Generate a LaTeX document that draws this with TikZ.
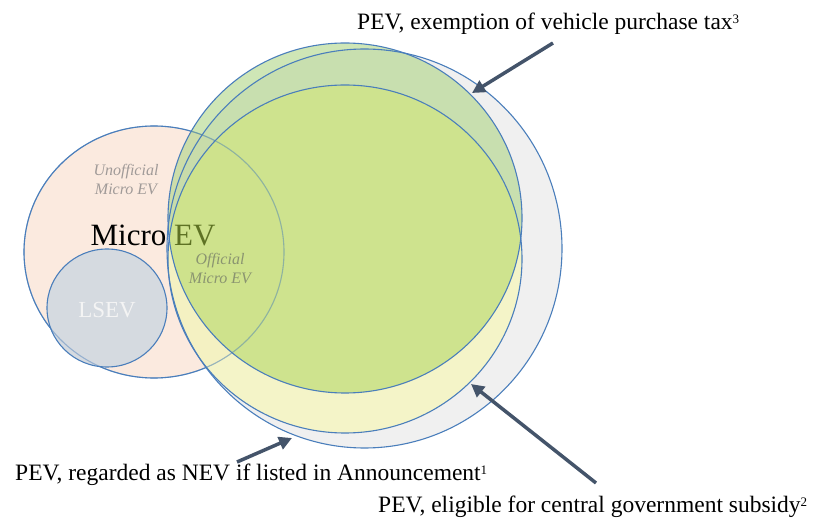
\documentclass[tikz,border=0pt]{standalone}
\usepackage{fontspec}
\setmainfont{Liberation Serif}
\usetikzlibrary{arrows.meta}
\definecolor{peach}{HTML}{FBEADF}
\definecolor{lsevfill}{HTML}{D5DAE0}
\definecolor{edgeblue}{HTML}{4A7EBB}
\definecolor{grayfill}{HTML}{E6E6E6}
\definecolor{yelfill}{HTML}{F8F8AD}
\definecolor{grnfill}{HTML}{AFD585}
\definecolor{innfix}{HTML}{D8E967}
\definecolor{arrowc}{HTML}{44546A}
\definecolor{olivetxt}{HTML}{5E7224}
\definecolor{offtxt}{HTML}{8A9470}
\definecolor{unofftxt}{HTML}{A09A98}
\definecolor{lsevtxt}{HTML}{F4F4F4}
\newcommand{\supnum}[1]{\raisebox{6pt}{\fontsize{13}{13}\selectfont #1}}
\tikzset{
  outline/.style={draw=edgeblue, line width=1.1pt},
  pointer/.style={arrowc, line width=3.5pt, -{Triangle[length=13pt,width=13pt]}},
  label/.style={font=\fontsize{23.5}{28}\selectfont, inner sep=0pt, anchor=base west},
  smallital/.style={font=\itshape\fontsize{16}{19}\selectfont, align=center, inner sep=0pt},
}
\begin{document}
\begin{tikzpicture}[x=1pt,y=-1pt]
\useasboundingbox (0,0) rectangle (831,529);
% Micro EV circle and LSEV circle
\fill[peach] (154,252) ellipse [x radius=130pt, y radius=126pt];
\draw[outline] (154,252) ellipse [x radius=130pt, y radius=126pt];
\filldraw[fill=lsevfill, outline] (107,308) ellipse [x radius=60pt, y radius=59pt];
% big ellipses (fills)
\fill[grayfill, fill opacity=0.6] (364.5,248.5) ellipse [x radius=197.5pt, y radius=199.5pt];
\fill[yelfill, fill opacity=0.6] (345,259) ellipse [x radius=177pt, y radius=174pt];
\fill[grnfill, fill opacity=0.6] (345,218) ellipse [x radius=177pt, y radius=175pt];
\begin{scope}
  \clip (345,259) ellipse [x radius=177pt, y radius=174pt];
  \fill[innfix, fill opacity=0.3] (345,218) ellipse [x radius=177pt, y radius=175pt];
\end{scope}
% outlines
\draw[outline, opacity=0.45] (154,252) ellipse [x radius=130pt, y radius=126pt];
\draw[outline] (364.5,248.5) ellipse [x radius=197.5pt, y radius=199.5pt];
\draw[outline] (345,259) ellipse [x radius=177pt, y radius=174pt];
\draw[outline] (345,218) ellipse [x radius=177pt, y radius=175pt];
% texts inside
\node[smallital, text=unofftxt] (unoff) at (126,179) {Unofficial\\Micro EV};
\node[smallital, text=offtxt] (off) at (220,268) {Official\\Micro EV};
\node[anchor=base, inner sep=0pt, font=\fontsize{31}{36}\selectfont] (micro) at (153,246) {Micro \textcolor{olivetxt}{EV}};
\node[anchor=base, inner sep=0pt, text=lsevtxt, font=\fontsize{23}{27}\selectfont] (lsev) at (107,318) {LSEV};
% labels
\node[label] (tax) at (357,30) {PEV, exemption of vehicle purchase tax\supnum{3}};
\node[label] (nev) at (15,481) {PEV, regarded as NEV if listed in Announcement\supnum{1}};
\node[label] (sub) at (378,513) {PEV, eligible for central government subsidy\supnum{2}};
% arrows
\coordinate (taxtail) at (553,43);
\coordinate (taxtip) at (472,93);
\coordinate (nevtail) at (237,462);
\coordinate (nevtip) at (292,438);
\coordinate (subtail) at (596,483);
\coordinate (subtip) at (471,384);
\draw[pointer] (taxtail) -- (taxtip);
\draw[pointer] (nevtail) -- (nevtip);
\draw[pointer] (subtail) -- (subtip);
\end{tikzpicture}
\end{document}
